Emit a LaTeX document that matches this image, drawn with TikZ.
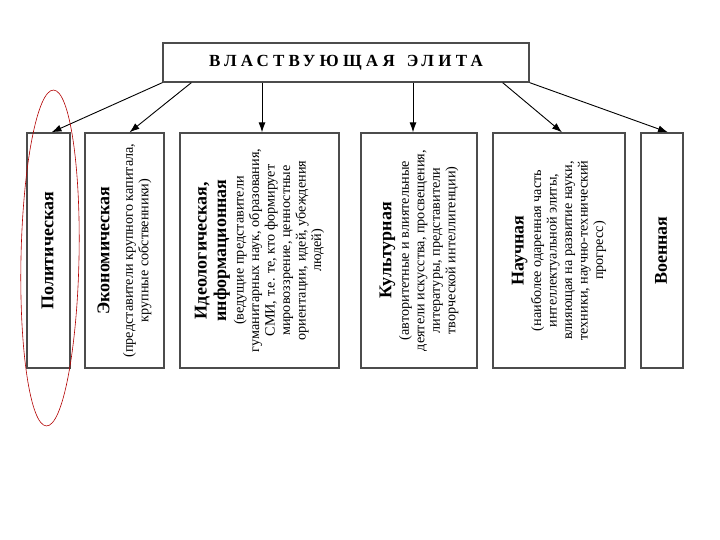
\documentclass[tikz,border=0pt]{standalone}
\usepackage{fontspec}
\setmainfont{Liberation Serif}
\newfontfamily\spacedserif[LetterSpace=25]{Liberation Serif}
\usepackage{graphicx}
\usetikzlibrary{arrows.meta}
\newcommand{\vtext}[3][2pt]{\rotatebox{90}{\parbox{232pt}{\centering{\fontsize{18}{19.5}\selectfont\bfseries #2\par}\vspace{#1}\fontsize{14.2}{15.5}\selectfont #3}}}
\begin{document}
\begin{tikzpicture}[x=1pt,y=-1pt,
	box/.style={draw=black!70, line width=1.3pt, inner sep=0pt},
	arr/.style={-{Latex[length=10pt,width=7pt]}, line width=0.9pt},
	oval/.style={draw=red!70!black, line width=0.6pt}]
	\useasboundingbox (0,0) rectangle (720,540);
	\node[box, minimum width=366, minimum height=39] (elite) at (346,62.5) {\spacedserif\bfseries\fontsize{17}{20}\selectfont ВЛАСТВУЮЩАЯ\hspace{12pt}ЭЛИТА};
	\node[box, minimum width=43, minimum height=235] (pol) at (48.5,250.5) {\vtext{Политическая}{}};
	\node[box, minimum width=79, minimum height=235] (econ) at (124.5,250.5) {\vtext[8pt]{Экономическая}{(представители крупного капитала,\\крупные собственники)}};
	\node[box, minimum width=159, minimum height=235] (ideo) at (259.5,250.5) {\vtext{Идеологическая,\\информационная}{(ведущие представители\\гуманитарных наук, образования,\\СМИ, т.е. те, кто формирует\\мировоззрение, ценностные\\ориентации, идей, убеждения\\людей)}};
	\node[box, minimum width=116, minimum height=235] (cult) at (419,250.5) {\vtext{Культурная}{(авторитетные и влиятельные\\деятели искусства, просвещения,\\литературы, представители\\творческой интеллигенции)}};
	\node[box, minimum width=132, minimum height=235] (sci) at (559,250.5) {\vtext{Научная}{(наиболее одаренная часть\\интеллектуальной элиты,\\влияющая на развитие науки,\\техники, научно-технический\\прогресс)}};
	\node[box, minimum width=42, minimum height=235] (mil) at (662,250.5) {\vtext{Военная}{}};
	\draw[arr] (elite.south west) -- ([xshift=3pt]pol.north);
	\draw[arr] ([xshift=29pt]elite.south west) -- ([xshift=5pt]econ.north);
	\draw[arr] ([xshift=2.5pt]ideo.north |- elite.south) -- ([xshift=2.5pt]ideo.north);
	\draw[arr] ([xshift=-6pt]cult.north |- elite.south) -- ([xshift=-6pt]cult.north);
	\draw[arr] ([xshift=-27pt]elite.south east) -- ([xshift=3pt]sci.north);
	\draw[arr] (elite.south east) -- ([xshift=6pt]mil.north);
	\draw[oval, rotate around={-1.2:(50,258)}] (50,258) ellipse [x radius=29, y radius=168];
\end{tikzpicture}
\end{document}
